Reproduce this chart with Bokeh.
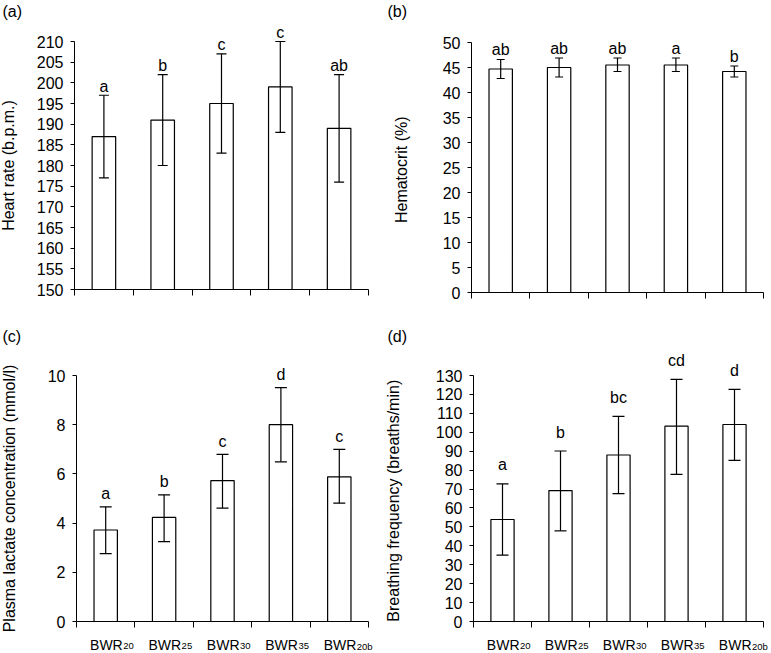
from bokeh.plotting import figure
from bokeh.models import ColumnDataSource, Whisker, TeeHead, Range1d, FixedTicker
from bokeh.layouts import column, row
from bokeh.embed import file_html
from bokeh.resources import INLINE
from bokeh.core.properties import value

FONT = "Liberation Sans"

# ---- data ----
group_main = ["BWR", "BWR", "BWR", "BWR", "BWR"]
group_sub = ["20", "25", "30", "35", "20b"]
tags = ["(a)", "(b)", "(c)", "(d)"]

hr_mean = [187, 191, 195, 199, 189]
hr_low = [177, 180, 183, 188, 176]
hr_high = [197, 202, 207, 210, 202]
hr_letters = ["a", "b", "c", "c", "ab"]
hr_ticks = [150, 155, 160, 165, 170, 175, 180, 185, 190, 195, 200, 205, 210]

hct_mean = [44.7, 45.0, 45.5, 45.5, 44.2]
hct_low = [42.8, 43.1, 44.2, 44.2, 43.1]
hct_high = [46.6, 46.9, 46.9, 46.9, 45.3]
hct_letters = ["ab", "ab", "ab", "a", "b"]
hct_ticks = [0, 5, 10, 15, 20, 25, 30, 35, 40, 45, 50]

lac_mean = [3.72, 4.23, 5.73, 8.0, 5.88]
lac_low = [2.76, 3.25, 4.61, 6.49, 4.81]
lac_high = [4.66, 5.15, 6.79, 9.51, 7.0]
lac_letters = ["a", "b", "c", "d", "c"]
lac_ticks = [0, 2, 4, 6, 8, 10]

bf_mean = [53.9, 69.2, 88.0, 103.2, 104.1]
bf_low = [35.1, 47.9, 67.6, 77.7, 85.1]
bf_high = [72.7, 90.1, 108.4, 127.9, 122.7]
bf_letters = ["a", "b", "bc", "cd", "d"]
bf_ticks = [0, 10, 20, 30, 40, 50, 60, 70, 80, 90, 100, 110, 120, 130]


def make_panel(tag, ylabel, mean, low, high, letters, ticks,
               W, H, L, R, T, B, tag_dx, tag_dy, label_standoff, letter_off, cap, x_labels):
    """W,H canvas size; L,R,T,B pixel positions of the axes' ends inside the canvas."""
    n = len(mean)
    xs = [i + 0.5 for i in range(n)]
    y0, y1 = ticks[0], ticks[-1]
    xscale = (R - L) / n
    yscale = (B - T) / (y1 - y0)
    x_start = -L / xscale
    x_end = n + (W - R) / xscale
    y_start = y0 - (H - B) / yscale
    y_end = y1 + T / yscale

    src = ColumnDataSource(dict(x=xs, top=mean, lower=low, upper=high, letters=letters))
    p = figure(x_range=Range1d(x_start, x_end), y_range=Range1d(y_start, y_end),
               width=W, height=H, min_border=0,
               min_border_left=0, min_border_right=0, min_border_top=0, min_border_bottom=0,
               output_backend="svg", toolbar_location=None)
    p.outline_line_color = None
    p.grid.visible = False

    p.vbar(x="x", top="top", bottom=y0, width=0.4, source=src,
           fill_color="white", line_color="black", line_width=1.2)
    w = Whisker(base="x", upper="upper", lower="lower", source=src,
                line_color="black", line_width=1.2, level="annotation",
                upper_head=TeeHead(size=cap, line_color="black", line_width=1.2),
                lower_head=TeeHead(size=cap, line_color="black", line_width=1.2))
    p.add_layout(w)
    p.text(x="x", y="upper", text="letters", source=src, y_offset=-letter_off,
           text_align="center", text_baseline="alphabetic",
           text_font=value(FONT), text_font_size="16px", text_color="black")

    ya = p.yaxis[0]
    ya.fixed_location = 0
    ya.ticker = FixedTicker(ticks=ticks)
    ya.bounds = (y0, y1)
    ya.major_tick_in = 0
    ya.major_tick_out = 4
    ya.minor_tick_in = 0
    ya.minor_tick_out = 0
    ya.major_label_standoff = 7
    ya.major_label_text_font = FONT
    ya.major_label_text_font_size = "16px"
    ya.major_label_text_color = "black"
    ya.axis_label = ylabel
    ya.axis_label_text_font = FONT
    ya.axis_label_text_font_size = "16px"
    ya.axis_label_text_font_style = "normal"
    ya.axis_label_text_color = "black"
    ya.axis_label_standoff = label_standoff
    ya.axis_line_color = "black"
    ya.major_tick_line_color = "black"

    xa = p.xaxis[0]
    xa.fixed_location = y0
    xa.ticker = FixedTicker(ticks=list(range(n + 1)))
    xa.bounds = (0, n)
    xa.major_tick_in = 0
    xa.major_tick_out = 6
    xa.minor_tick_in = 0
    xa.minor_tick_out = 0
    xa.major_label_text_color = None
    xa.axis_line_color = "black"
    xa.major_tick_line_color = "black"

    # panel tag at the top-left corner of the canvas
    p.text(x=[x_start], y=[y_end], text=[tag], x_offset=tag_dx, y_offset=tag_dy,
           text_align="left", text_baseline="top",
           text_font=value(FONT), text_font_size="16px", text_color="black")

    if x_labels:
        p.text(x=xs, y=[y0] * n, text=group_main, x_offset=17, y_offset=23,
               text_align="right", text_baseline="alphabetic",
               text_font=value(FONT), text_font_size="14px", text_color="black")
        p.text(x=xs, y=[y0] * n, text=group_sub, x_offset=17.5, y_offset=24.5,
               text_align="left", text_baseline="alphabetic",
               text_font=value(FONT), text_font_size="9.5px", text_color="black")
    return p


pa = make_panel(tags[0], "Heart rate (b.p.m.)", hr_mean, hr_low, hr_high, hr_letters,
                hr_ticks, 385, 318, 74, 368, 41, 289, 2, 2, 17, 9, 10, False)
pb = make_panel(tags[1], "Hematocrit  (%)", hct_mean, hct_low, hct_high, hct_letters,
                hct_ticks, 386, 318, 86, 378, 42, 292, 2, 2, 30, 10, 8, False)
pc = make_panel(tags[2], "Plasma lactate concentration (mmol/l)", lac_mean, lac_low, lac_high,
                lac_letters, lac_ticks, 385, 335, 76, 368, 57, 303, 2, 9, 27, 13, 12, True)
pd = make_panel(tags[3], "Breathing frequency  (breaths/min)", bf_mean, bf_low, bf_high,
                bf_letters, bf_ticks, 386, 335, 88, 378, 57, 303, 2, 9, 31, 19, 12, True)

layout = column(row(pa, pb), row(pc, pd))
open("out.html", "w").write(file_html(layout, INLINE))
